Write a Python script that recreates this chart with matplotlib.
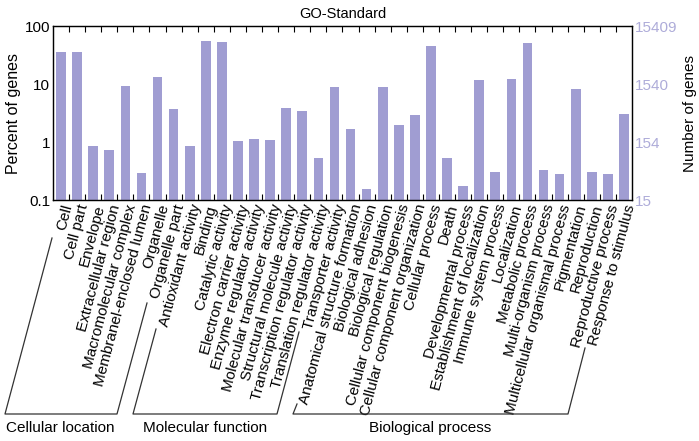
import matplotlib
matplotlib.use("Agg")
import matplotlib.pyplot as plt
from matplotlib.lines import Line2D
import numpy as np

plt.rcParams['font.family'] = ['Liberation Sans', 'DejaVu Sans']

categories = [
    "Cell", "Cell part", "Envelope", "Extracellular region", "Macromolecular complex",
    "Membranel-enclosed lumen", "Organelle", "Organelle part",
    "Antioxidant activity", "Binding", "Catalytic activity", "Electron carrier activity",
    "Enzyme regulator activity", "Molecular transducer activity", "Structural molecule activity",
    "Transcription regulator activity", "Translation regulator activity", "Transporter activity",
    "Anatomical structure formation", "Biological adhesion", "Biological regulation",
    "Cellular component biogenesis", "Cellular component organization", "Cellular process",
    "Death", "Developmental process", "Establishment of localization", "Immune system process",
    "Localization", "Metabolic process", "Multi-organism process",
    "Multicellular organismal process", "Pigmentation", "Reproduction",
    "Reproductive process", "Response to stimulus",
]
percent = [
    35.2, 35.0, 0.84, 0.73, 9.2, 0.29, 13.0, 3.7,
    0.85, 54.5, 53.0, 1.05, 1.13, 1.10, 3.86, 3.47, 0.52, 8.8,
    1.68, 0.157, 8.9, 1.96, 2.9, 45.0, 0.54, 0.177, 11.9, 0.30,
    12.0, 51.0, 0.325, 0.284, 8.3, 0.30, 0.285, 3.1,
]
total_genes = 15409
right_ticks = [0.1, 1, 10, 100]
right_labels = ["15", "154", "1540", "15409"]
left_ticks = [0.1, 1, 10, 100]
left_labels = ["0.1", "1", "10", "100"]
groups = ["Cellular location", "Molecular function", "Biological process"]

W, H = 699, 441
fig = plt.figure(figsize=(W / 100, H / 100), dpi=100)
ax = fig.add_axes([53 / W, 1 - 200 / H, (632 - 53) / W, (200 - 26) / H])

bar_color = "#a09dd2"
x = np.arange(len(categories))
ax.bar(x, percent, width=0.6, color=bar_color, bottom=0)
ax.set_yscale("log")
ax.set_ylim(0.1, 100)
ax.set_xlim(-0.5, len(categories) - 0.5)

ax.set_yticks(left_ticks)
ax.set_yticklabels(left_labels, fontsize=11)
ax.yaxis.set_minor_locator(matplotlib.ticker.NullLocator())
ax.tick_params(axis="y", which="both", length=0, pad=2)

ax.set_xticks(x)
ax.set_xticklabels(categories, rotation=75, ha="right", va="top",
                   rotation_mode="anchor", fontsize=11)
ax.tick_params(axis="x", which="major", length=0, pad=2)
ax.set_xticks(np.arange(-0.5, len(categories), 1.0)[1:-1], minor=True)
ax.tick_params(axis="x", which="minor", direction="in", length=4, top=True, bottom=True, width=0.8)

for s in ax.spines.values():
    s.set_linewidth(1.0)
    s.set_color("#222222")

ax.set_ylabel("Percent of genes", fontsize=11.5, labelpad=3)
ax.set_title("GO-Standard", fontsize=10.5, pad=6)

ax2 = ax.twinx()
ax2.set_yscale("log")
ax2.set_ylim(0.1 * total_genes / 100, 100 * total_genes / 100)
ax2.set_yticks([t * total_genes / 100 for t in right_ticks])
ax2.set_yticklabels(right_labels, fontsize=11, color="#aeacd9")
ax2.yaxis.set_minor_locator(matplotlib.ticker.NullLocator())
ax2.tick_params(axis="y", which="both", length=0, pad=2)
ax2.set_ylabel("Number of genes", fontsize=11, labelpad=4)

def fl(pts):
    xs = [p[0] / W for p in pts]
    ys = [1 - p[1] / H for p in pts]
    fig.add_artist(Line2D(xs, ys, transform=fig.transFigure, color="#333333", lw=0.9))

fl([(52, 238), (5, 414), (117, 414), (147, 303)])
fl([(156, 329), (133, 414), (277, 414), (299, 332)])
fl([(297, 404), (293, 414), (568, 414), (585, 348)])

for name, cx in zip(groups, [60, 205, 430]):
    fig.text(cx / W, 1 - 428 / H, name, ha="center", va="center", fontsize=11)

fig.savefig("out.png", dpi=100)
